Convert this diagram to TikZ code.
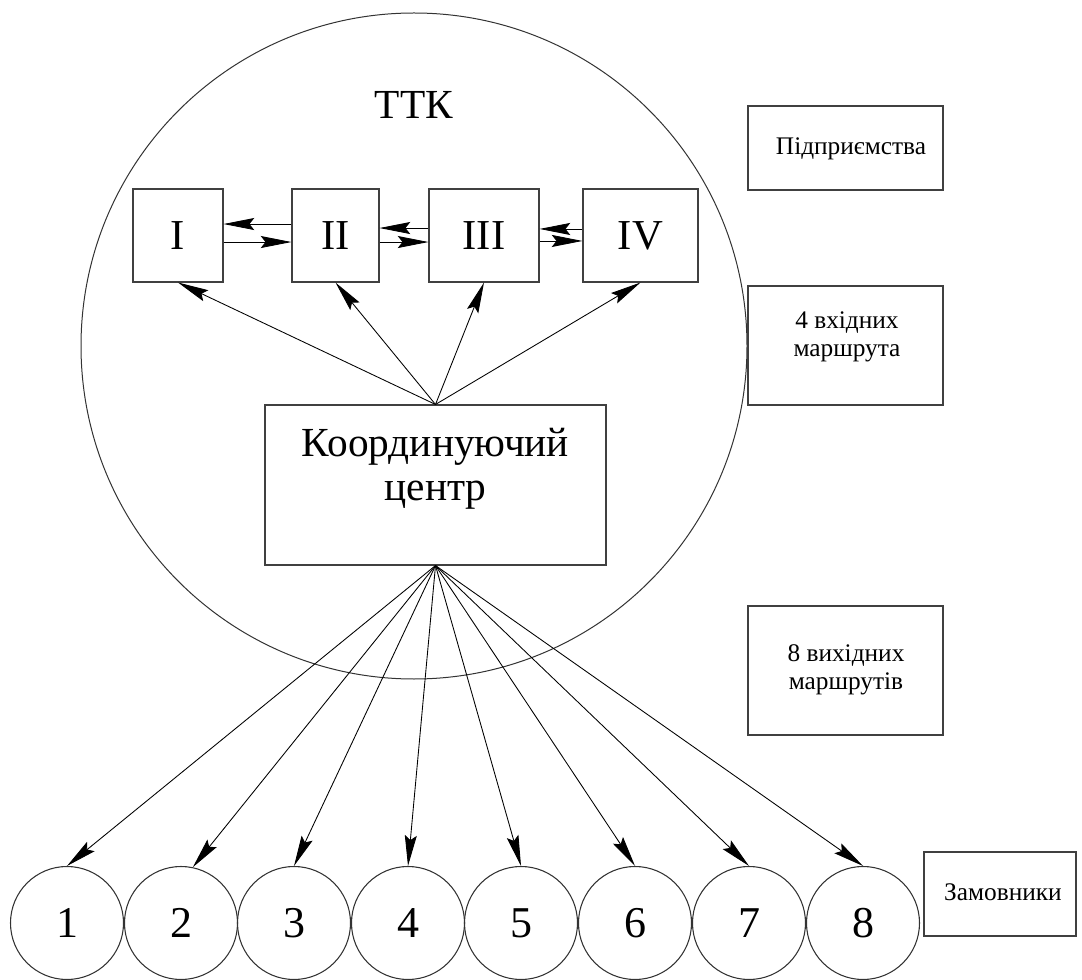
\documentclass[tikz,border=0pt]{standalone}
\usepackage{fontspec}
\setmainfont{Liberation Serif}
\usetikzlibrary{arrows.meta,calc}
\begin{document}
\begin{tikzpicture}[x=0.75pt,y=-0.75pt,
  box/.style={draw=black!75,line width=0.8pt,rectangle,inner sep=0pt},
  numc/.style={draw=black!80,line width=0.8pt,circle,inner sep=0pt,minimum size=84.75pt,font=\fontsize{33}{36}\selectfont,text height=22.3pt,text depth=0pt},
  arr/.style={draw=black,line width=0.65pt,-{Stealth[length=23pt,width=9pt,inset=3.5pt]}},
  rom/.style={font=\fontsize{32}{36}\selectfont},
  side/.style={font=\fontsize{19}{21}\selectfont,align=center}
]
\useasboundingbox (0,0) rectangle (1082,980);
% big circle
\node[draw=black!80,line width=0.75pt,circle,inner sep=0pt,minimum size=499.5pt] (ttk) at (414,346) {};
\node[font=\fontsize{31}{34}\selectfont] (ttklbl) at (414,105) {ТТК};
% boxes I-IV
\node[box,rom,minimum width=67.5pt,minimum height=69.75pt] (b1) at (178,235.5) {I};
\node[box,rom,minimum width=65.25pt,minimum height=69.75pt] (b2) at (335.5,235.5) {II};
\node[box,rom,minimum width=82.5pt,minimum height=69.75pt] (b3) at (484,235.5) {III};
\node[box,rom,minimum width=86.25pt,minimum height=69.75pt] (b4) at (640.5,235.5) {IV};
% coordinating centre
\node[box,minimum width=255.75pt,minimum height=120pt] (kc) at (435.5,485) {};
\node[font=\fontsize{31}{33}\selectfont,align=center] (kclbl) at (435.5,469) {Координуючий\\центр};
% side boxes
\node[box,minimum width=146.25pt,minimum height=63pt] (r1) at (845.5,148) {};
\node[side] (r1lbl) at (851,149) {Підприємства};
\node[box,minimum width=146.25pt,minimum height=89.25pt] (r2) at (845.5,345.5) {};
\node[side] (r2lbl) at (847,337) {4 вхідних\\маршрута};
\node[box,minimum width=146.25pt,minimum height=96.75pt] (r3) at (845.5,670.5) {};
\node[side] (r3lbl) at (846,670) {8 вихідних\\маршрутів};
\node[box,minimum width=114pt,minimum height=63pt] (r4) at (1000,894) {};
\node[side] (r4lbl) at (1003,892) {Замовники};
% customers
\foreach \i/\cx in {1/67,2/181,3/294,4/408,5/521,6/635,7/749,8/863}
  \node[numc] (c\i) at (\cx,923) {\i};
% arrows between boxes
\draw[arr] ([yshift=8.6pt]b2.west) -- ([yshift=8.6pt]b1.east);
\draw[arr] ([yshift=-4.9pt]b1.east) -- ([yshift=-4.9pt]b2.west);
\draw[arr] ([yshift=5.6pt]b3.west) -- ([yshift=5.6pt]b2.east);
\draw[arr] ([yshift=-4.9pt]b2.east) -- ([yshift=-4.9pt]b3.west);
\draw[arr] ([yshift=4.9pt]b4.west) -- ([yshift=4.9pt]b3.east);
\draw[arr] ([yshift=-4.1pt]b3.east) -- ([yshift=-4.1pt]b4.west);
% from coordinating centre to I-IV
\foreach \i in {1,2,3,4}
  \draw[arr] (kc.north) -- (b\i.south);
% from coordinating centre to customers
\draw[arr] (kc.south) -- (c1.north);
\draw[arr] (kc.south) -- (c2.78);
\foreach \i in {3,4,5,6,7,8}
  \draw[arr] (kc.south) -- (c\i.north);
\end{tikzpicture}
\end{document}
